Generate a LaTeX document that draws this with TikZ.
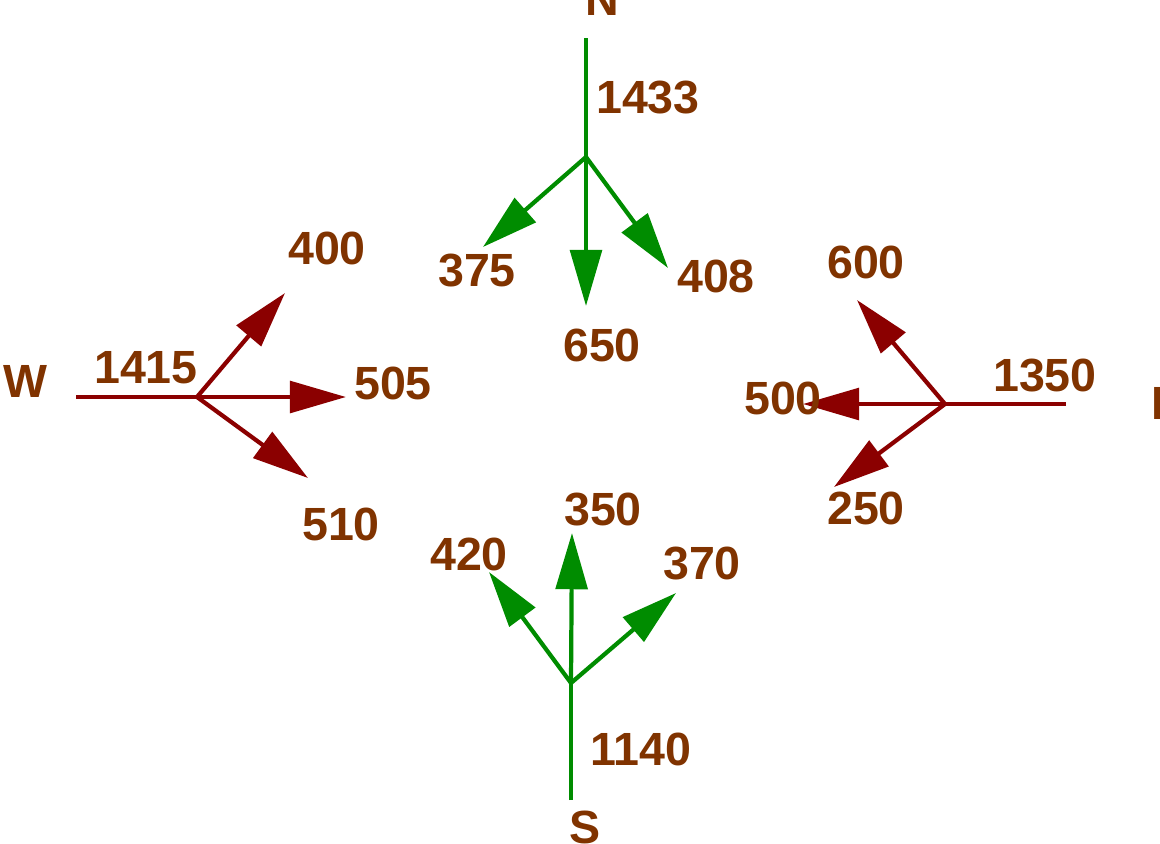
\documentclass[tikz,border=0pt]{standalone}
\usepackage{fontspec}
\setmainfont{Liberation Sans}
\usepackage{tikz}
\usetikzlibrary{arrows.meta}
\definecolor{lblbrown}{RGB}{128,51,0}
\definecolor{flowgreen}{RGB}{0,140,0}
\definecolor{flowred}{RGB}{139,0,0}

\begin{document}
\begin{tikzpicture}[
  x=0.02cm, y=-0.02cm,
  lbl/.style = {text=lblbrown, inner sep=0pt,
    font=\fontsize{26.5}{31}\selectfont\bfseries},
  road/.style = {line width=2.4pt},
  turn/.style = {road, -{Triangle[length=32pt, width=18pt]}},
  ns/.style = {flowgreen},
  ew/.style = {flowred}]
  \useasboundingbox (0,0) rectangle (1160,843);

  % north approach
  \coordinate (nIn) at (586,38);
  \coordinate (nJ) at (586,157);
  \coordinate (nL) at (483,247);
  \coordinate (nT) at (586,306);
  \coordinate (nR) at (668,268);
  \draw[road, ns] (nIn) -- (nJ);
  \draw[turn, ns] (nJ) -- (nL);
  \draw[turn, ns] (nJ) -- (nT);
  \draw[turn, ns] (nJ) -- (nR);
  \node[lbl] (nName) at (602,-1) {N};
  \node[lbl] (nTot) at (648,97) {1433};
  \node[lbl] (nLv) at (477,270) {375};
  \node[lbl] (nTv) at (602,345) {650};
  \node[lbl] (nRv) at (716,276) {408};

  % south approach
  \coordinate (sIn) at (571,800);
  \coordinate (sJ) at (571,683);
  \coordinate (sL) at (489,572);
  \coordinate (sT) at (572,533);
  \coordinate (sR) at (676,593);
  \draw[road, ns] (sIn) -- (sJ);
  \draw[turn, ns] (sJ) -- (sL);
  \draw[turn, ns] (sJ) -- (sT);
  \draw[turn, ns] (sJ) -- (sR);
  \node[lbl] (sName) at (585,827) {S};
  \node[lbl] (sTot) at (641,749) {1140};
  \node[lbl] (sLv) at (469,554) {420};
  \node[lbl] (sTv) at (603,509) {350};
  \node[lbl] (sRv) at (702,563) {370};

  % west approach
  \coordinate (wIn) at (76,397);
  \coordinate (wJ) at (197,397);
  \coordinate (wL) at (285,293);
  \coordinate (wT) at (346,397);
  \coordinate (wR) at (308,478);
  \draw[road, ew] (wIn) -- (wJ);
  \draw[turn, ew] (wJ) -- (wL);
  \draw[turn, ew] (wJ) -- (wT);
  \draw[turn, ew] (wJ) -- (wR);
  \node[lbl] (wName) at (25,381) {W};
  \node[lbl] (wTot) at (146,368) {1415};
  \node[lbl] (wLv) at (327,248) {400};
  \node[lbl] (wTv) at (393,383) {505};
  \node[lbl] (wRv) at (341,524) {510};

  % east approach
  \coordinate (eIn) at (1066,404);
  \coordinate (eJ) at (945,404);
  \coordinate (eL) at (857,300);
  \coordinate (eT) at (803,404);
  \coordinate (eR) at (834,487);
  \draw[road, ew] (eIn) -- (eJ);
  \draw[turn, ew] (eJ) -- (eL);
  \draw[turn, ew] (eJ) -- (eT);
  \draw[turn, ew] (eJ) -- (eR);
  \node[lbl] (eName) at (1167,403) {E};
  \node[lbl] (eTot) at (1045,375) {1350};
  \node[lbl] (eLv) at (866,262) {600};
  \node[lbl] (eTv) at (783,398) {500};
  \node[lbl] (eRv) at (866,508) {250};
\end{tikzpicture}
\end{document}
